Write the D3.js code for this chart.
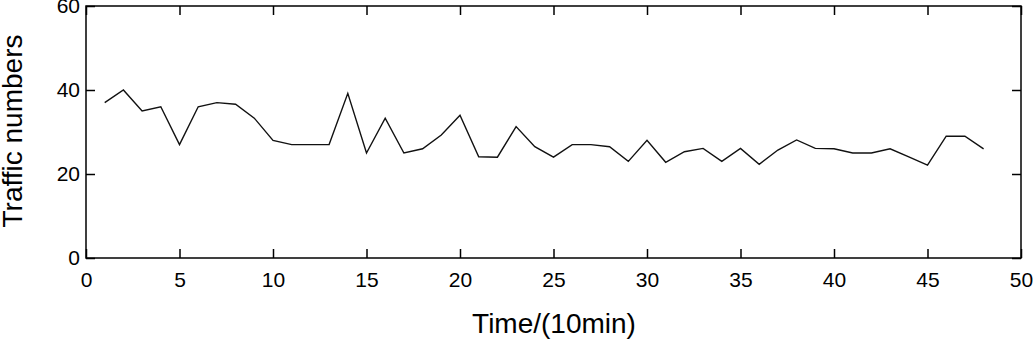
<!DOCTYPE html>
<html>
<head>
<meta charset="utf-8">
<script src="https://cdn.jsdelivr.net/npm/d3@7"></script>
<style>
  body { margin: 0; background: #fff; }
  text { font-family: "Liberation Sans", Arial, sans-serif; fill: #000; }
</style>
</head>
<body>
<div id="chart"></div>
<script>
// traffic counts per 10 minute slot
var timeSlots = d3.range(1, 49);
var traffic = [37, 40, 35, 36, 27, 36, 37, 36.6, 33.3, 28,
               27, 27, 27, 39.2, 25, 33.3, 25, 26, 29.3, 34,
               24.1, 24, 31.3, 26.5, 24, 27, 27, 26.5, 23, 28,
               22.8, 25.3, 26.1, 23, 26.1, 22.3, 25.7, 28.1, 26.1, 26,
               25, 25, 26, 24.1, 22.1, 29, 29, 26];
var xTicks = [0, 5, 10, 15, 20, 25, 30, 35, 40, 45, 50];
var yTicks = [0, 20, 40, 60];

var margin = {top: 6, right: 13, bottom: 84, left: 86},
    width = 1034 - margin.left - margin.right,
    height = 342 - margin.top - margin.bottom;

var x = d3.scaleLinear().domain([0, 50]).range([0, width]),
    y = d3.scaleLinear().domain([0, 60]).range([height, 0]);

var svg = d3.select("#chart").append("svg")
    .attr("width", 1034)
    .attr("height", 342);

var g = svg.append("g")
    .attr("transform", "translate(" + margin.left + "," + margin.top + ")");

// frame
g.append("rect")
    .attr("width", width)
    .attr("height", height)
    .attr("fill", "none")
    .attr("stroke", "#000")
    .attr("stroke-width", 1.5);

var tickLen = 9;

// bottom axis, ticks point inward
var xAxis = g.append("g")
    .attr("transform", "translate(0," + height + ")")
    .call(d3.axisBottom(x).tickValues(xTicks).tickSizeInner(-tickLen).tickSizeOuter(0).tickPadding(14));
// top mirror ticks
var xTop = g.append("g")
    .call(d3.axisTop(x).tickValues(xTicks).tickSizeInner(-tickLen).tickSizeOuter(0).tickFormat(""));

var yAxis = g.append("g")
    .call(d3.axisLeft(y).tickValues(yTicks).tickSizeInner(-tickLen).tickSizeOuter(0).tickPadding(6));
var yRight = g.append("g")
    .attr("transform", "translate(" + width + ",0)")
    .call(d3.axisRight(y).tickValues(yTicks).tickSizeInner(-tickLen).tickSizeOuter(0).tickFormat(""));

[xAxis, xTop, yAxis, yRight].forEach(function(a) {
  a.select(".domain").remove();
  a.selectAll("line").attr("stroke", "#000").attr("stroke-width", 1.5);
  a.selectAll("text").style("font-size", "21px").attr("fill", "#000")
    .style("font-family", "'Liberation Sans', Arial, sans-serif");
});

var line = d3.line()
    .x(function(d, i) { return x(timeSlots[i]); })
    .y(function(d) { return y(d); });

g.append("path")
    .datum(traffic)
    .attr("d", line)
    .attr("fill", "none")
    .attr("stroke", "#111")
    .attr("stroke-width", 1.4);

svg.append("text")
    .attr("x", 554)
    .attr("y", 333)
    .attr("text-anchor", "middle")
    .style("font-size", "28px")
    .text("Time/(10min)");

svg.append("text")
    .attr("transform", "translate(22,131) rotate(-90)")
    .attr("text-anchor", "middle")
    .style("font-size", "28px")
    .text("Traffic numbers");
</script>
</body>
</html>
